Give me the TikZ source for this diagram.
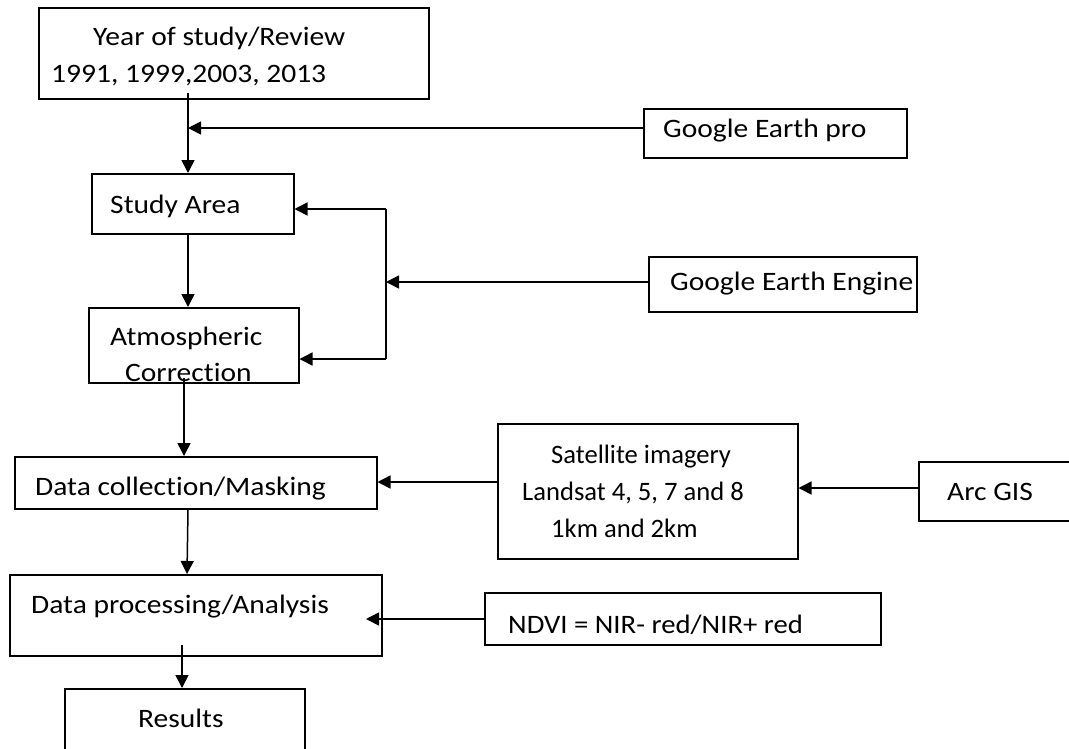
\documentclass[tikz,border=0pt]{standalone}
\usepackage{fontspec}
\usepackage{graphicx}
\setmainfont{Carlito}[Ligatures=NoCommon]
\usetikzlibrary{arrows.meta}
\newcommand\wide[1]{\scalebox{1.11}[1]{#1}}
\begin{document}
\begin{tikzpicture}[x=1pt,y=-1pt,
  box/.style={draw,line width=1.5pt,inner sep=0pt,anchor=north west},
  txt/.style={inner sep=0pt,anchor=base west,font=\fontsize{26.6}{31}\selectfont},
  stxt/.style={inner sep=0pt,anchor=base west,font=\fontsize{26.6}{31}\selectfont},
  conn/.style={line width=1.5pt},
  arr/.style={line width=1.5pt,-{Triangle[length=13pt,width=13pt]}}]
\useasboundingbox[fill=white] (0,0) rectangle (1069,748);
% boxes
\node[box,minimum width=390pt,minimum height=91pt] (year) at (38,7) {};
\node[box,minimum width=263pt,minimum height=49pt] (gep) at (643,108) {};
\node[box,minimum width=202pt,minimum height=60pt] (study) at (91,173) {};
\node[box,minimum width=268pt,minimum height=55pt] (gee) at (648,256) {};
\node[box,minimum width=210pt,minimum height=75pt] (atm) at (88,307) {};
\node[box,minimum width=362pt,minimum height=52pt] (dc) at (14,456) {};
\node[box,minimum width=300pt,minimum height=135pt] (sat) at (497,423) {};
\node[box,minimum width=180pt,minimum height=59pt] (arc) at (918,461) {};
\node[box,minimum width=372pt,minimum height=81pt] (dp) at (9,574) {};
\node[box,minimum width=396pt,minimum height=52pt] (ndvi) at (484,592) {};
\node[box,minimum width=240pt,minimum height=80pt] (res) at (64,688) {};
% texts
\node[txt] (t1) at (93,45) {\wide{Year of study/Review}};
\node[txt] (t2) at (51,82) {\wide{1991, 1999,2003, 2013}};
\node[txt] (t3) at (663,137) {\wide{Google Earth pro}};
\node[txt] (t4) at (110,213) {\wide{Study Area}};
\node[txt] (t5) at (670,290) {\wide{Google Earth Engine}};
\node[txt] (t6) at (110,345) {\wide{Atmospheric}};
\node[txt] (t7) at (125,381) {\wide{Correction}};
\node[txt] (t8) at (35,495) {\wide{Data collection/Masking}};
\node[stxt] (t9) at (551,463) {Satellite imagery};
\node[stxt] (t10) at (522,500) {Landsat 4, 5, 7 and 8};
\node[stxt] (t11) at (551,537) {1km and 2km};
\node[txt] (t12) at (947,500) {\wide{Arc GIS}};
\node[txt] (t13) at (31,613) {\wide{Data processing/Analysis}};
\node[txt] (t14) at (508,633) {\scalebox{1.08}[1]{NDVI = NIR- red/NIR+ red}};
\node[txt] (t15) at (138,727) {\wide{Results}};
% coordinates
\coordinate (ys) at (188,93);
\coordinate (gepj) at (188,128);
\coordinate (sa) at (188,233);
\coordinate (bk1) at (386,209);
\coordinate (bk2) at (386,359);
\coordinate (geej) at (386,282);
\coordinate (ab) at (184,378);
\coordinate (dcb) at (188,510);
\coordinate (dpt) at (187,574);
\coordinate (dpb) at (182,645);
\coordinate (ndj) at (366,619);
% connectors
\draw[arr] (ys) -- (ys |- study.north);
\draw[arr] (gep.west |- gepj) -- (gepj);
\draw[arr] (sa) -- (sa |- atm.north);
\draw[conn] (bk1) -- (bk2);
\draw[arr] (bk1) -- (bk1 -| study.east);
\draw[arr] (bk2) -- (bk2 -| atm.east);
\draw[arr] (gee.west |- geej) -- (geej);
\draw[arr] (ab) -- (ab |- dc.north);
\draw[arr] (sat.west |- 0,482) -- (dc.east |- 0,482);
\draw[arr] (arc.west |- 0,488) -- (sat.east |- 0,488);
\draw[arr] (dcb) -- (dpt);
\draw[arr] (dpb) -- (dpb |- res.north);
\draw[arr] (ndvi.west |- ndj) -- (ndj);
\end{tikzpicture}
\end{document}
